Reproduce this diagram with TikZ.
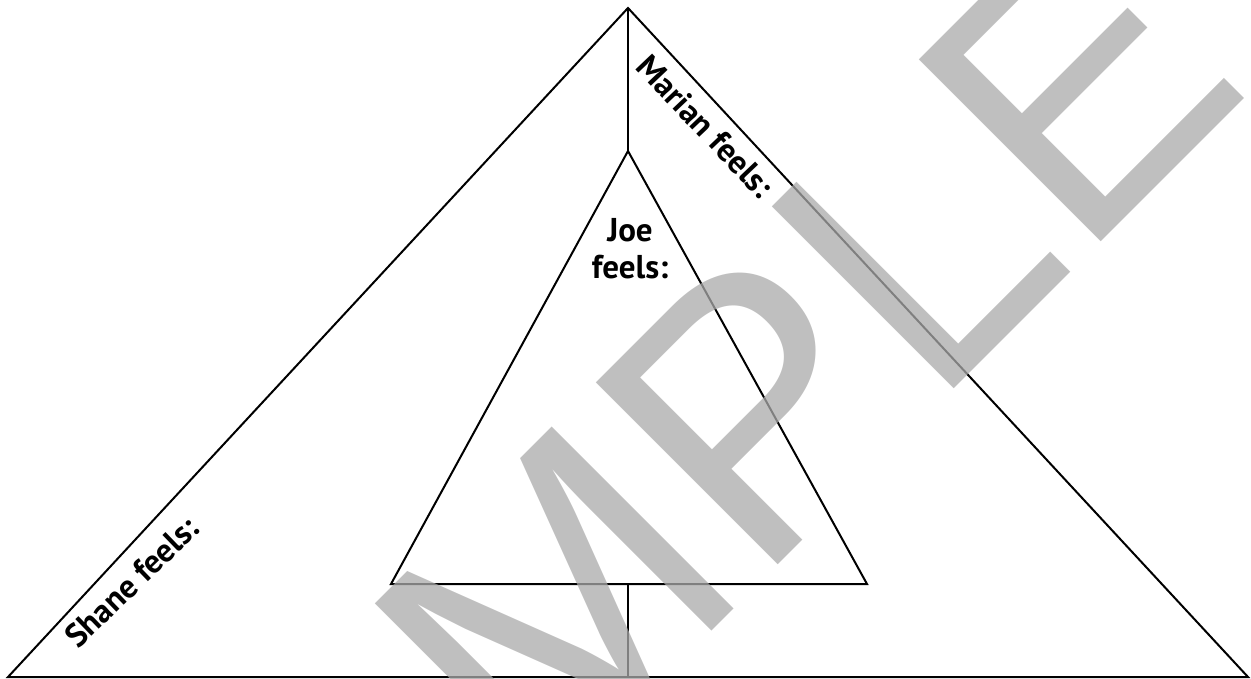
\documentclass[tikz,border=0pt]{standalone}
\usepackage{fontspec}
\setmainfont{PT Sans}
\newfontfamily\wmfont{Liberation Sans}
\begin{document}
\begin{tikzpicture}[x=1pt,y=-1pt,
  edge/.style={draw=black,line width=2pt,line join=miter},
  lbl/.style={font=\bfseries\fontsize{33}{37}\selectfont,inner sep=0pt},
  wmark/.style={font=\wmfont\fontsize{374}{374}\selectfont,text=wmgray,text opacity=0.75,inner sep=0pt}]
\definecolor{wmgray}{gray}{0.667}
\useasboundingbox (0,0) rectangle (1251,679);
\clip (0,0) rectangle (1251,679);
% outer triangle
\coordinate (A) at (628,8);
\coordinate (L) at (8,677);
\coordinate (R) at (1248,677);
% inner triangle
\coordinate (a) at (628,151);
\coordinate (l) at (391,584);
\coordinate (r) at (867,584);
\coordinate (b) at (628,677);
\coordinate (m) at (628,584);
\draw[edge] (A) -- (L) -- (R) -- cycle;
\draw[edge] (a) -- (l) -- (r) -- cycle;
\draw[edge] (A) -- (a);
\draw[edge] (m) -- (b);
% labels
\node[lbl,anchor=base west,rotate=-46.5] (marian) at (634,68) {Marian feels:};
\node[lbl,anchor=base west,rotate=44] (shane) at (78,650) {Shane feels:};
\node[lbl,align=center] (joe) at (630,249) {Joe\\feels:};
% watermark
\node[wmark,anchor=base west,rotate=45] (wm) at (183,1160) {SAMPLE};
\end{tikzpicture}
\end{document}
